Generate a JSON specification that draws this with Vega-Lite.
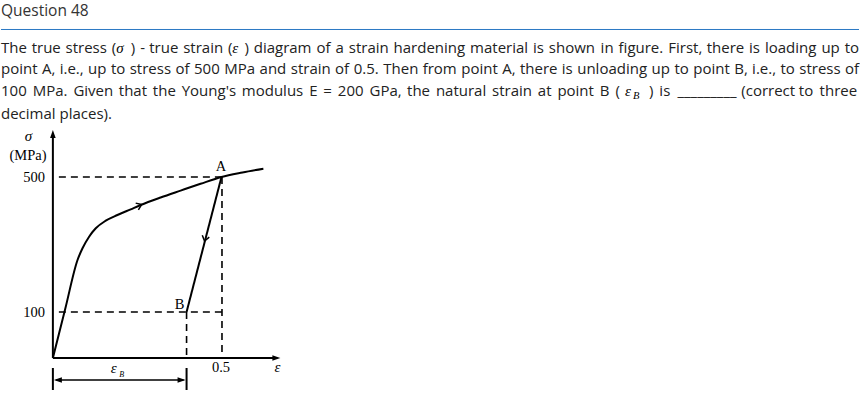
{
  "$schema": "https://vega.github.io/schema/vega-lite/v6.json",
  "width": 860,
  "height": 412,
  "autosize": {"type": "fit", "contains": "padding"},
  "padding": 0,
  "background": "#ffffff",
  "config": {"view": {"stroke": null}},
  "encoding": {
    "x": {"field": "x", "type": "quantitative", "scale": {"domain": [-0.153846, 2.390533], "nice": false, "zero": false}, "axis": null},
    "y": {"field": "y", "type": "quantitative", "scale": {"domain": [-149.17, 988.95], "nice": false, "zero": false}, "axis": null}
  },
  "layer": [
    {
      "data": {"values": [{"x": -0.153846, "x2": 2.390533, "y": 907.46}]},
      "mark": {"type": "rule", "color": "#2b79c4", "strokeWidth": 1},
      "encoding": {"x2": {"field": "x2"}}
    },
    {
      "data": {"values": [
        {"x": 0, "y": 0, "x2": 0, "y2": 613.26},
        {"x": 0, "y": 0, "x2": 0.66272, "y2": 0},
        {"x": 0.5, "y": 500, "x2": 0.39645, "y2": 127.07},
        {"x": 0, "y": -27.62, "x2": 0, "y2": -88.40},
        {"x": 0.39645, "y": -27.62, "x2": 0.39645, "y2": -88.40}
      ]},
      "mark": {"type": "rule", "color": "#000000", "strokeWidth": 2},
      "encoding": {"x2": {"field": "x2"}, "y2": {"field": "y2"}}
    },
    {
      "data": {"values": [{"x": 0.00888, "y": -60.77, "x2": 0.38757, "y2": -60.77}]},
      "mark": {"type": "rule", "color": "#000000", "strokeWidth": 1.5},
      "encoding": {"x2": {"field": "x2"}, "y2": {"field": "y2"}}
    },
    {
      "data": {"values": [
        {"x": 0.01775, "y": 500, "x2": 0.5, "y2": 500},
        {"x": 0.01775, "y": 127.07, "x2": 0.50296, "y2": 127.07},
        {"x": 0.50148, "y": 500, "x2": 0.50148, "y2": 0},
        {"x": 0.39645, "y": 127.07, "x2": 0.39645, "y2": 0}
      ]},
      "mark": {"type": "rule", "color": "#000000", "strokeWidth": 1.6, "strokeDash": [7, 5]},
      "encoding": {"x2": {"field": "x2"}, "y2": {"field": "y2"}}
    },
    {
      "data": {"values": [
        {"o": 1, "x": 0, "y": 0},
        {"o": 2, "x": 0.03654, "y": 135.36},
        {"o": 3, "x": 0.07308, "y": 270.72},
        {"o": 4, "x": 0.08787, "y": 303.04},
        {"o": 5, "x": 0.10740, "y": 335.08},
        {"o": 6, "x": 0.12722, "y": 358.29},
        {"o": 7, "x": 0.15680, "y": 379.28},
        {"o": 8, "x": 0.19142, "y": 395.03},
        {"o": 9, "x": 0.23077, "y": 410.77},
        {"o": 10, "x": 0.26036, "y": 422.65},
        {"o": 11, "x": 0.31953, "y": 443.37},
        {"o": 12, "x": 0.37870, "y": 462.43},
        {"o": 13, "x": 0.43787, "y": 481.22},
        {"o": 14, "x": 0.5, "y": 500},
        {"o": 15, "x": 0.56213, "y": 512.43},
        {"o": 16, "x": 0.62426, "y": 522.93}
      ]},
      "mark": {"type": "line", "interpolate": "monotone", "color": "#000000", "strokeWidth": 2},
      "encoding": {"order": {"field": "o", "type": "quantitative"}}
    },
    {
      "data": {"values": [{"x": 0.67456, "y": 0}, {"x": 0.39349, "y": -60.77}]},
      "mark": {"type": "point", "shape": "M0,0L-2,-0.7L-2,0.7Z", "filled": true, "color": "#000000", "size": 64, "angle": 0, "opacity": 1}
    },
    {
      "data": {"values": [{"x": 0.00296, "y": -60.77}]},
      "mark": {"type": "point", "shape": "M0,0L-2,-0.7L-2,0.7Z", "filled": true, "color": "#000000", "size": 64, "angle": 180, "opacity": 1}
    },
    {
      "data": {"values": [{"x": 0, "y": 629.83}]},
      "mark": {"type": "point", "shape": "M0,0L-2,-0.7L-2,0.7Z", "filled": true, "color": "#000000", "size": 64, "angle": 270, "opacity": 1}
    },
    {
      "data": {"values": [{"x": 0.26331, "y": 423.76}]},
      "mark": {"type": "point", "shape": "M-1.25,-0.9L0,0L-1.25,0.9", "filled": false, "color": "#000000", "strokeWidth": 1.5, "size": 64, "angle": 338, "opacity": 1}
    },
    {
      "data": {"values": [{"x": 0.44970, "y": 323.20}]},
      "mark": {"type": "point", "shape": "M-1.25,-0.9L0,0L-1.25,0.9", "filled": false, "color": "#000000", "strokeWidth": 1.5, "size": 64, "angle": 104.5, "opacity": 1}
    },
    {
      "data": {"values": [
        {"x": -0.07396, "y": 548.34, "t": "(MPa)"},
        {"x": 0.49852, "y": 515.75, "t": "A"},
        {"x": 0.37574, "y": 136.74, "t": "B"},
        {"x": 0.49852, "y": -37.85, "t": "0.5"}
      ]},
      "mark": {"type": "text", "font": "Liberation Serif", "fontSize": 14.5, "align": "center", "baseline": "alphabetic", "color": "#000000"},
      "encoding": {"text": {"field": "t", "type": "nominal"}}
    },
    {
      "data": {"values": [
        {"x": -0.02367, "y": 485.36, "t": "500"},
        {"x": -0.02367, "y": 112.43, "t": "100"}
      ]},
      "mark": {"type": "text", "font": "Liberation Serif", "fontSize": 14.5, "align": "right", "baseline": "alphabetic", "color": "#000000"},
      "encoding": {"text": {"field": "t", "type": "nominal"}}
    },
    {
      "data": {"values": [
        {"x": -0.07249, "y": 599.45, "t": "σ"},
        {"x": 0.66568, "y": -37.85, "t": "ε"}
      ]},
      "mark": {"type": "text", "font": "Liberation Serif", "fontStyle": "italic", "fontSize": 15, "align": "center", "baseline": "alphabetic", "color": "#000000"},
      "encoding": {"text": {"field": "t", "type": "nominal"}}
    },
    {
      "data": {"values": [
        {"x": 0.1716, "y": -42.27, "t": "ε"},
        {"x": 0.18763, "y": 843.92, "t": "σ"},
        {"x": 0.53225, "y": 843.92, "t": "ε"},
        {"x": 1.69675, "y": 722.38, "t": "ε"}
      ]},
      "mark": {"type": "text", "font": "Liberation Serif", "fontStyle": "italic", "fontSize": 15, "align": "left", "baseline": "alphabetic", "color": "#000000"},
      "encoding": {"text": {"field": "t", "type": "nominal"}}
    },
    {
      "data": {"values": [{"x": 0.19675, "y": -52.49, "t": "B"}]},
      "mark": {"type": "text", "font": "Liberation Serif", "fontStyle": "italic", "fontSize": 8, "align": "left", "baseline": "alphabetic", "color": "#000000"},
      "encoding": {"text": {"field": "t", "type": "nominal"}}
    },
    {
      "data": {"values": [{"x": 1.72041, "y": 714.64, "t": "B"}]},
      "mark": {"type": "text", "font": "Liberation Serif", "fontStyle": "italic", "fontSize": 10.5, "align": "left", "baseline": "alphabetic", "color": "#000000"},
      "encoding": {"text": {"field": "t", "type": "nominal"}}
    },
    {
      "data": {"values": [{"x": -0.1538, "y": 946.13, "t": "Question 48"}]},
      "mark": {"type": "text", "font": "Open Sans", "fontSize": 15.5, "align": "left", "baseline": "alphabetic", "color": "#333333"},
      "encoding": {"text": {"field": "t", "type": "nominal"}}
    },
    {
      "data": {"values": [
        {"x": -0.15385, "y": 843.92, "t": "The"},
        {"x": -0.06296, "y": 843.92, "t": "true"},
        {"x": 0.03763, "y": 843.92, "t": "stress"},
        {"x": 0.17450, "y": 843.92, "t": "("},
        {"x": 0.23077, "y": 843.92, "t": ")"},
        {"x": 0.25888, "y": 843.92, "t": "-"},
        {"x": 0.28580, "y": 843.92, "t": "true"},
        {"x": 0.38639, "y": 843.92, "t": "strain"},
        {"x": 0.51923, "y": 843.92, "t": "("},
        {"x": 0.56805, "y": 843.92, "t": ")"},
        {"x": 0.59556, "y": 843.92, "t": "diagram"},
        {"x": 0.78166, "y": 843.92, "t": "of"},
        {"x": 0.83817, "y": 843.92, "t": "a"},
        {"x": 0.87751, "y": 843.92, "t": "strain"},
        {"x": 1.01036, "y": 843.92, "t": "hardening"},
        {"x": 1.23728, "y": 843.92, "t": "material"},
        {"x": 1.42367, "y": 843.92, "t": "is"},
        {"x": 1.47071, "y": 843.92, "t": "shown"},
        {"x": 1.62426, "y": 843.92, "t": "in"},
        {"x": 1.67751, "y": 843.92, "t": "figure."},
        {"x": 1.82485, "y": 843.92, "t": "First,"},
        {"x": 1.93905, "y": 843.92, "t": "there"},
        {"x": 2.06450, "y": 843.92, "t": "is"},
        {"x": 2.11154, "y": 843.92, "t": "loading"},
        {"x": 2.27899, "y": 843.92, "t": "up"},
        {"x": 2.34793, "y": 843.92, "t": "to"},
        {"x": -0.15385, "y": 783.15, "t": "point"},
        {"x": -0.03237, "y": 783.15, "t": "A,"},
        {"x": 0.02015, "y": 783.15, "t": "i.e.,"},
        {"x": 0.10429, "y": 783.15, "t": "up"},
        {"x": 0.17204, "y": 783.15, "t": "to"},
        {"x": 0.22784, "y": 783.15, "t": "stress"},
        {"x": 0.36334, "y": 783.15, "t": "of"},
        {"x": 0.41852, "y": 783.15, "t": "500"},
        {"x": 0.50799, "y": 783.15, "t": "MPa"},
        {"x": 0.61299, "y": 783.15, "t": "and"},
        {"x": 0.70544, "y": 783.15, "t": "strain"},
        {"x": 0.83686, "y": 783.15, "t": "of"},
        {"x": 0.89204, "y": 783.15, "t": "0.5."},
        {"x": 0.97973, "y": 783.15, "t": "Then"},
        {"x": 1.09651, "y": 783.15, "t": "from"},
        {"x": 1.21101, "y": 783.15, "t": "point"},
        {"x": 1.33249, "y": 783.15, "t": "A,"},
        {"x": 1.38500, "y": 783.15, "t": "there"},
        {"x": 1.50914, "y": 783.15, "t": "is"},
        {"x": 1.55485, "y": 783.15, "t": "unloading"},
        {"x": 1.77538, "y": 783.15, "t": "up"},
        {"x": 1.84314, "y": 783.15, "t": "to"},
        {"x": 1.89894, "y": 783.15, "t": "point"},
        {"x": 2.02041, "y": 783.15, "t": "B,"},
        {"x": 2.07358, "y": 783.15, "t": "i.e.,"},
        {"x": 2.15772, "y": 783.15, "t": "to"},
        {"x": 2.21352, "y": 783.15, "t": "stress"},
        {"x": 2.34902, "y": 783.15, "t": "of"},
        {"x": -0.15385, "y": 722.38, "t": "100"},
        {"x": -0.06000, "y": 722.38, "t": "MPa."},
        {"x": 0.06095, "y": 722.38, "t": "Given"},
        {"x": 0.19550, "y": 722.38, "t": "that"},
        {"x": 0.29645, "y": 722.38, "t": "the"},
        {"x": 0.38195, "y": 722.38, "t": "Young's"},
        {"x": 0.56030, "y": 722.38, "t": "modulus"},
        {"x": 0.76024, "y": 722.38, "t": "E"},
        {"x": 0.80189, "y": 722.38, "t": "="},
        {"x": 0.84503, "y": 722.38, "t": "200"},
        {"x": 0.93888, "y": 722.38, "t": "GPa,"},
        {"x": 1.05036, "y": 722.38, "t": "the"},
        {"x": 1.13586, "y": 722.38, "t": "natural"},
        {"x": 1.30237, "y": 722.38, "t": "strain"},
        {"x": 1.43817, "y": 722.38, "t": "at"},
        {"x": 1.49609, "y": 722.38, "t": "point"},
        {"x": 1.62195, "y": 722.38, "t": "B"},
        {"x": 1.66840, "y": 722.38, "t": "("},
        {"x": 1.76775, "y": 722.38, "t": ")"},
        {"x": 1.79852, "y": 722.38, "t": "is"},
        {"x": 1.85207, "y": 722.38, "t": "_________"},
        {"x": 2.04142, "y": 722.38, "t": "(correct"},
        {"x": 2.21213, "y": 722.38, "t": "to"},
        {"x": 2.27367, "y": 722.38, "t": "three"},
        {"x": -0.15385, "y": 661.60, "t": "decimal places)."}
      ]},
      "mark": {"type": "text", "font": "Open Sans", "fontSize": 15, "align": "left", "baseline": "alphabetic", "color": "#222222"},
      "encoding": {"text": {"field": "t", "type": "nominal"}}
    }
  ]
}
